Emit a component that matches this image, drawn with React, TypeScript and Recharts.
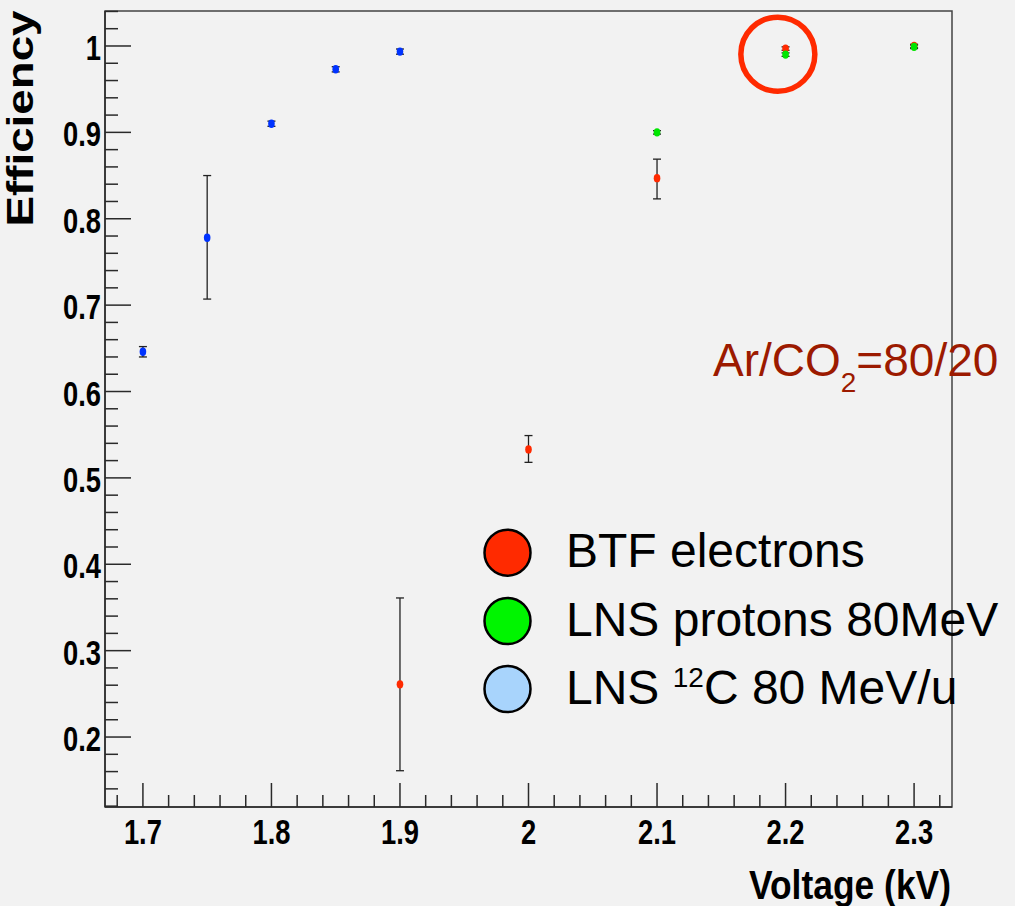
import React from "react";
import {
    ScatterChart,
    Scatter,
    XAxis,
    YAxis,
    ErrorBar,
    ReferenceArea,
    ReferenceDot,
    Legend,
} from "recharts";

// BTF electrons
const btfVoltage = [1.9, 2.0, 2.1, 2.2, 2.3];
const btfEff = [0.261, 0.533, 0.847, 0.997, 1.0];
const btfErr = [
    [0.1, 0.1],
    [0.015, 0.016],
    [0.024, 0.022],
    [0.002, 0.002],
    [0.002, 0.002],
];

// LNS protons 80 MeV
const protonVoltage = [2.1, 2.2, 2.3];
const protonEff = [0.9, 0.99, 0.999];
const protonErr = [
    [0.002, 0.002],
    [0.002, 0.002],
    [0.002, 0.002],
];

// LNS 12C 80 MeV/u
const carbonVoltage = [1.7, 1.75, 1.8, 1.85, 1.9];
const carbonEff = [0.646, 0.778, 0.91, 0.973, 0.9935];
const carbonErr = [
    [0.006, 0.006],
    [0.071, 0.072],
    [0.003, 0.003],
    [0.003, 0.003],
    [0.003, 0.003],
];

const xMajorTicks = [1.7, 1.8, 1.9, 2.0, 2.1, 2.2, 2.3];
const xTickLabels = ["1.7", "1.8", "1.9", "2", "2.1", "2.2", "2.3"];
const yMajorTicks = [0.2, 0.3, 0.4, 0.5, 0.6, 0.7, 0.8, 0.9, 1.0];
const yTickLabels = ["0.2", "0.3", "0.4", "0.5", "0.6", "0.7", "0.8", "0.9", "1"];

const legendLabels = ["BTF electrons", "LNS protons 80MeV", "LNS 12C 80 MeV/u"];
const legendColors = ["#ff2a00", "#00f500", "#a8d4fc"];

// circled point in the plot
const highlight = { x: 2.194, y: 0.9905 };

const X_DOMAIN: [number, number] = [1.6705, 2.3295];
const Y_DOMAIN: [number, number] = [0.119, 1.0405];

const RED = "#ff2a00";
const GREEN = "#00e600";
const BLUE = "#0033ff";
const AXIS = "#2a2a2a";
const FONT = "'Liberation Sans', Arial, Helvetica, sans-serif";

const toPoints = (xs: number[], ys: number[], errs: number[][]) =>
    xs.map((x, i) => ({ x, y: ys[i], err: errs[i] }));

const btfData = toPoints(btfVoltage, btfEff, btfErr);
const protonData = toPoints(protonVoltage, protonEff, protonErr);
const carbonData = toPoints(carbonVoltage, carbonEff, carbonErr);

// minor ticks every 0.02 across the visible range
function withMinor(majors: number[], lo: number, hi: number) {
    const out: number[] = [];
    const step = 0.02;
    const start = Math.ceil(lo / step - 1e-9);
    const end = Math.floor(hi / step + 1e-9);
    for (let i = start; i <= end; i++) out.push(Math.round(i * step * 1000) / 1000);
    majors.forEach((m) => {
        if (!out.some((v) => Math.abs(v - m) < 1e-6)) out.push(m);
    });
    return out.sort((a, b) => a - b);
}

const xTicks = withMinor(xMajorTicks, X_DOMAIN[0], X_DOMAIN[1]);
const yTicks = withMinor(yMajorTicks, Y_DOMAIN[0], Y_DOMAIN[1]);

const majorIndex = (v: number, majors: number[]) => majors.findIndex((m) => Math.abs(m - v) < 1e-6);

// ROOT-style condensed bold tick labels
const TICK_FONT = 36;
const TICK_SQUEEZE = 0.76;

function XTick({ x, y, payload }: any) {
    const idx = majorIndex(payload.value, xMajorTicks);
    const major = idx >= 0;
    return (
        <g>
            <line x1={x} x2={x} y1={y} y2={y - (major ? 24 : 12)} stroke={AXIS} strokeWidth={1.5} />
            {major && (
                <text
                    transform={`translate(${x}, ${y + 37}) scale(${TICK_SQUEEZE}, 1)`}
                    textAnchor="middle"
                    fontFamily={FONT}
                    fontWeight="bold"
                    fontSize={TICK_FONT}
                    fill="#000"
                >
                    {xTickLabels[idx]}
                </text>
            )}
        </g>
    );
}

function YTick({ x, y, payload }: any) {
    const idx = majorIndex(payload.value, yMajorTicks);
    const major = idx >= 0;
    return (
        <g>
            <line x1={x} x2={x + (major ? 26 : 13)} y1={y} y2={y} stroke={AXIS} strokeWidth={1.5} />
            {major && (
                <text
                    transform={`translate(${x - 4}, ${y + 14}) scale(${TICK_SQUEEZE}, 1)`}
                    textAnchor="end"
                    fontFamily={FONT}
                    fontWeight="bold"
                    fontSize={TICK_FONT}
                    fill="#000"
                >
                    {yTickLabels[idx]}
                </text>
            )}
        </g>
    );
}

const dot = (color: string) => (props: any) =>
    <ellipse cx={props.cx} cy={props.cy} rx={3.3} ry={4.2} fill={color} />;

function LegendBox() {
    const rowY = [42.7, 111, 179];
    return (
        <svg width={545} height={215} style={{ display: "block" }}>
            {legendLabels.map((label, i) => (
                <g key={label}>
                    <circle cx={37.5} cy={rowY[i]} r={23} fill={legendColors[i]} stroke="#000" strokeWidth={2.5} />
                    <text x={96} y={rowY[i] + 14.6} fontFamily={FONT} fontSize={48} fill="#000">
                        {i === 2 ? (
                            <>
                                LNS{" "}
                                <tspan fontSize={28} dy={-17}>
                                    12
                                </tspan>
                                <tspan dy={17}>C 80 MeV/u</tspan>
                            </>
                        ) : (
                            label
                        )}
                    </text>
                </g>
            ))}
        </svg>
    );
}

export default function App() {
    return (
        <div style={{ position: "relative", width: 1015, height: 906, background: "#f2f2f2", overflow: "hidden" }}>
            <style>{`html,body{margin:0;padding:0;background:#f2f2f2;overflow:hidden}`}</style>
            <ScatterChart width={1015} height={906} margin={{ top: 11, right: 63, bottom: 0, left: 0 }}>
                <XAxis
                    type="number"
                    dataKey="x"
                    domain={X_DOMAIN}
                    allowDataOverflow
                    ticks={xTicks}
                    interval={0}
                    height={99}
                    tickSize={0}
                    tickMargin={0}
                    tickLine={false}
                    axisLine={{ stroke: AXIS, strokeWidth: 1.5 }}
                    tick={<XTick />}
                    label={() => (
                        <text
                            x={951}
                            y={899}
                            textAnchor="end"
                            fontFamily={FONT}
                            fontWeight="bold"
                            fontSize={40}
                            textLength={202}
                            lengthAdjust="spacingAndGlyphs"
                            fill="#000"
                        >
                            Voltage (kV)
                        </text>
                    )}
                />
                <YAxis
                    type="number"
                    dataKey="y"
                    domain={Y_DOMAIN}
                    allowDataOverflow
                    ticks={yTicks}
                    interval={0}
                    width={105}
                    tickSize={0}
                    tickMargin={0}
                    tickLine={false}
                    axisLine={{ stroke: AXIS, strokeWidth: 1.5 }}
                    tick={<YTick />}
                    label={() => (
                        <text
                            x={33}
                            y={118.5}
                            textAnchor="middle"
                            transform="rotate(-90, 33, 118.5)"
                            fontFamily={FONT}
                            fontWeight="bold"
                            fontSize={37}
                            textLength={216}
                            lengthAdjust="spacingAndGlyphs"
                            fill="#000"
                        >
                            Efficiency
                        </text>
                    )}
                />
                <ReferenceArea
                    x1={X_DOMAIN[0]}
                    x2={X_DOMAIN[1]}
                    y1={Y_DOMAIN[0]}
                    y2={Y_DOMAIN[1]}
                    fill="none"
                    stroke="#444"
                    strokeWidth={1.5}
                    ifOverflow="visible"
                />
                <Scatter name={legendLabels[2]} data={carbonData} fill={BLUE} shape={dot(BLUE)} isAnimationActive={false}>
                    <ErrorBar dataKey="err" direction="y" width={4} stroke="#222" strokeWidth={1.3} />
                </Scatter>
                <Scatter name={legendLabels[0]} data={btfData} fill={RED} shape={dot(RED)} isAnimationActive={false}>
                    <ErrorBar dataKey="err" direction="y" width={4} stroke="#222" strokeWidth={1.3} />
                </Scatter>
                <Scatter name={legendLabels[1]} data={protonData} fill={GREEN} shape={dot(GREEN)} isAnimationActive={false}>
                    <ErrorBar dataKey="err" direction="y" width={4} stroke="#222" strokeWidth={1.3} />
                </Scatter>
                <ReferenceDot
                    x={highlight.x}
                    y={highlight.y}
                    r={37}
                    fill="none"
                    stroke={RED}
                    strokeWidth={5.5}
                    ifOverflow="visible"
                />
                <Legend
                    layout="vertical"
                    align="center"
                    verticalAlign="middle"
                    wrapperStyle={{ left: 470, top: 510, width: 545, height: 215 }}
                    content={() => <LegendBox />}
                />
            </ScatterChart>
            <svg
                width={1015}
                height={906}
                style={{ position: "absolute", left: 0, top: 0, pointerEvents: "none" }}
            >
                <text x={713} y={376} fontFamily={FONT} fontSize={46} fill="#9c1a00">
                    Ar/CO
                    <tspan fontSize={28} dy={16}>
                        2
                    </tspan>
                    <tspan dy={-16}>=80/20</tspan>
                </text>
            </svg>
        </div>
    );
}
